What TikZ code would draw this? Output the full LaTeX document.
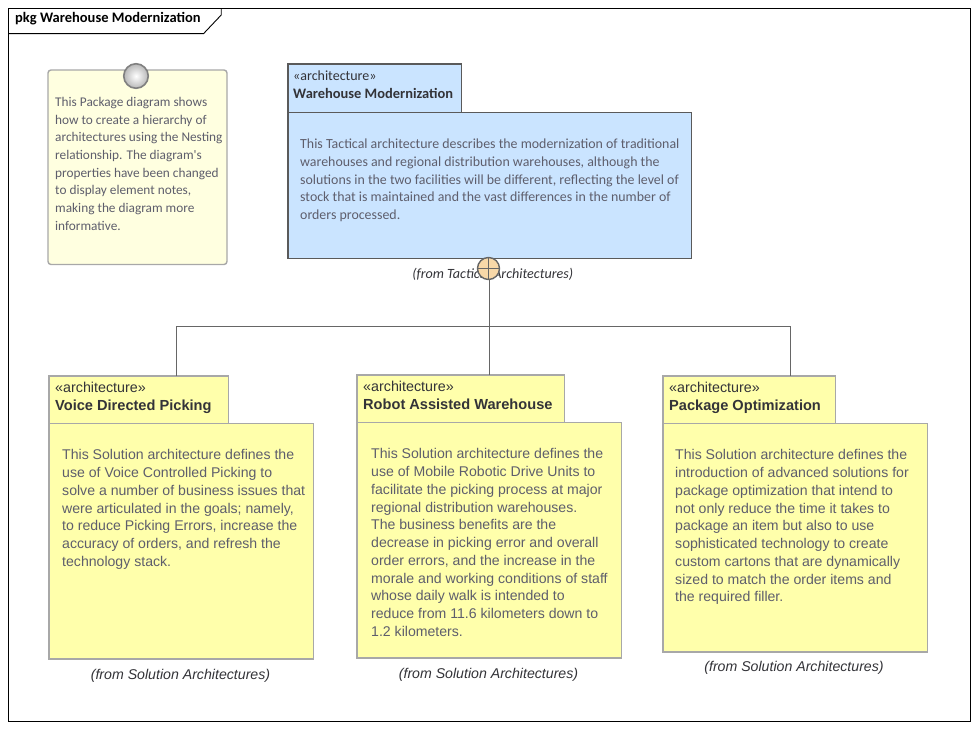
\documentclass[tikz,border=0pt]{standalone}
\usepackage{fontspec}
\setmainfont{Liberation Sans}
\newfontfamily\carlito{Carlito}
\definecolor{bluefill}{HTML}{CAE4FF}
\definecolor{yelfill}{HTML}{FFFFAB}
\definecolor{notefill}{HTML}{FFFFE0}
\definecolor{nestfill}{HTML}{F8D8A8}
\definecolor{bodytxt}{HTML}{5E5E6C}
\definecolor{darktxt}{HTML}{333338}
\definecolor{edgeblue}{HTML}{5A5A5A}
\definecolor{edgeyel}{HTML}{A8A8A8}
\definecolor{linecol}{HTML}{666666}
\tikzset{
  box/.style={draw, line width=1.4pt, inner sep=0pt, outer sep=0pt, minimum width=0pt, minimum height=0pt},
  tabblue/.style={box, draw=edgeblue, fill=bluefill},
  tabyel/.style={box, draw=edgeyel, fill=yelfill},
  txt/.style={inner sep=0pt, anchor=north west, align=left},
  calbody/.style={txt, text=bodytxt, font=\carlito\fontsize{13.9}{17.7}\selectfont},
  notebody/.style={txt, text=bodytxt, font=\carlito\fontsize{13.3}{17.7}\selectfont},
  ariabody/.style={txt, text=bodytxt, font=\fontsize{14.1}{17.75}\selectfont},
  calstereo/.style={txt, text=darktxt, font=\carlito\fontsize{14}{17.7}\selectfont},
  ariastereo/.style={txt, text=darktxt, font=\fontsize{14.3}{17.7}\selectfont},
  fromlbl/.style={inner sep=0pt, text=darktxt, font=\itshape\fontsize{14.15}{17}\selectfont},
  conn/.style={draw=linecol, line width=1.4pt},
}
\begin{document}
\begin{tikzpicture}[x=1pt,y=-1pt]
\useasboundingbox (0,0) rectangle (978,729);
\fill[white] (0,0) rectangle (978,729);
% frame
\draw[black, line width=0.9pt] (8.6,8.6) rectangle (970.6,721.6);
\draw[black, line width=0.9pt] (8.6,33.6) -- (203.6,33.6) -- (221.2,15) -- (221.2,8.6);
\node[txt, text=black, font=\carlito\bfseries\fontsize{14.5}{17}\selectfont] (title) at (15,12.5) {pkg Warehouse Modernization};
% note
\node[draw=edgeyel, fill=notefill, line width=1.4pt, rounded corners=3pt, outer sep=0pt, minimum width=179pt, minimum height=194.5pt, inner sep=0pt, anchor=north west] (note) at (48,70) {};
\shade[inner color=white, middle color=white, outer color=gray!55] (136,76) circle (12pt);
\node[draw=gray, line width=1.6pt, circle, minimum size=24.5pt, inner sep=0pt] (notepin) at (136,76) {};
\node[notebody] (notetxt) at (55,97) {This Package diagram shows\\how to create a hierarchy of\\architectures using the Nesting\\relationship. The diagram's\\properties have been changed\\to display element notes,\\making the diagram more\\informative.};
% connectors
\coordinate (junc) at (489.5,326.5);
% blue package
\node[tabblue, minimum width=173.5pt, minimum height=48.5pt, anchor=north west] (bluetab) at (287.8,63.8) {};
\node[tabblue, minimum width=403.5pt, minimum height=146.3pt, anchor=north west] (bluebody) at (287.8,112.3) {};
\node[calstereo] (bluest) at (293,70.6) {«architecture»\\{\fontsize{14.45}{17.7}\selectfont\textbf{Warehouse Modernization}}};
\node[calbody] (bluetxt) at (300,139) {This Tactical architecture describes the modernization of traditional\\warehouses and regional distribution warehouses, although the\\solutions in the two facilities will be different, reflecting the level of\\stock that is maintained and the vast differences in the number of\\orders processed.};
\node[fromlbl, font=\carlito\itshape\fontsize{14.1}{17}\selectfont] (bluefrom) at (492.7,274.5) {(from Tactical Architectures)};
\node[draw=linecol, fill=nestfill, line width=1.4pt, circle, minimum size=22pt, inner sep=0pt, outer sep=0pt] (nest) at (488.5,268.5) {};
\draw[linecol, line width=1.2pt] (nest.north) -- (nest.south) (nest.west) -- (nest.east);
% yellow packages
\node[tabyel, minimum width=179.5pt, minimum height=47.5pt, anchor=north west] (tabA) at (48.8,376) {};
\node[tabyel, minimum width=264.5pt, minimum height=235.5pt, anchor=north west] (bodyA) at (48.8,423.5) {};
\node[ariastereo] (stA) at (55,382) {«architecture»\\{\fontsize{14.6}{17.7}\selectfont\textbf{Voice Directed Picking}}};
\node[ariabody] (txtA) at (62,449.5) {This Solution architecture defines the\\use of Voice Controlled Picking to\\solve a number of business issues that\\were articulated in the goals; namely,\\to reduce Picking Errors, increase the\\accuracy of orders, and refresh the\\technology stack.};
\node[fromlbl] (fromA) at (180.5,676) {(from Solution Architectures)};

\node[tabyel, minimum width=207.5pt, minimum height=47.5pt, anchor=north west] (tabB) at (356.8,375) {};
\node[tabyel, minimum width=264.5pt, minimum height=235.5pt, anchor=north west] (bodyB) at (356.8,422.5) {};
\node[ariastereo] (stB) at (363,381) {«architecture»\\{\fontsize{14.6}{17.7}\selectfont\textbf{Robot Assisted Warehouse}}};
\node[ariabody] (txtB) at (371,448.5) {This Solution architecture defines the\\use of Mobile Robotic Drive Units to\\facilitate the picking process at major\\regional distribution warehouses.\\The business benefits are the\\decrease in picking error and overall\\order errors, and the increase in the\\morale and working conditions of staff\\whose daily walk is intended to\\reduce from 11.6 kilometers down to\\1.2 kilometers.};
\node[fromlbl] (fromB) at (488.5,675) {(from Solution Architectures)};

\node[tabyel, minimum width=172.5pt, minimum height=47.5pt, anchor=north west] (tabC) at (662.8,376) {};
\node[tabyel, minimum width=264.5pt, minimum height=228.5pt, anchor=north west] (bodyC) at (662.8,423.5) {};
\node[ariastereo] (stC) at (669,382) {«architecture»\\{\fontsize{14.6}{17.7}\selectfont\textbf{Package Optimization}}};
\node[ariabody] (txtC) at (675,449.5) {This Solution architecture defines the\\introduction of advanced solutions for\\package optimization that intend to\\not only reduce the time it takes to\\package an item but also to use\\sophisticated technology to create\\custom cartons that are dynamically\\sized to match the order items and\\the required filler.};
\node[fromlbl] (fromC) at (794,668) {(from Solution Architectures)};
% nesting connectors
\draw[conn] (junc |- nest.south) -- (junc |- tabB.north);
\draw[conn] (junc) -| ([xshift=38pt]tabA.north);
\draw[conn] (junc) -| ([xshift=41.5pt]tabC.north);
\end{tikzpicture}
\end{document}
